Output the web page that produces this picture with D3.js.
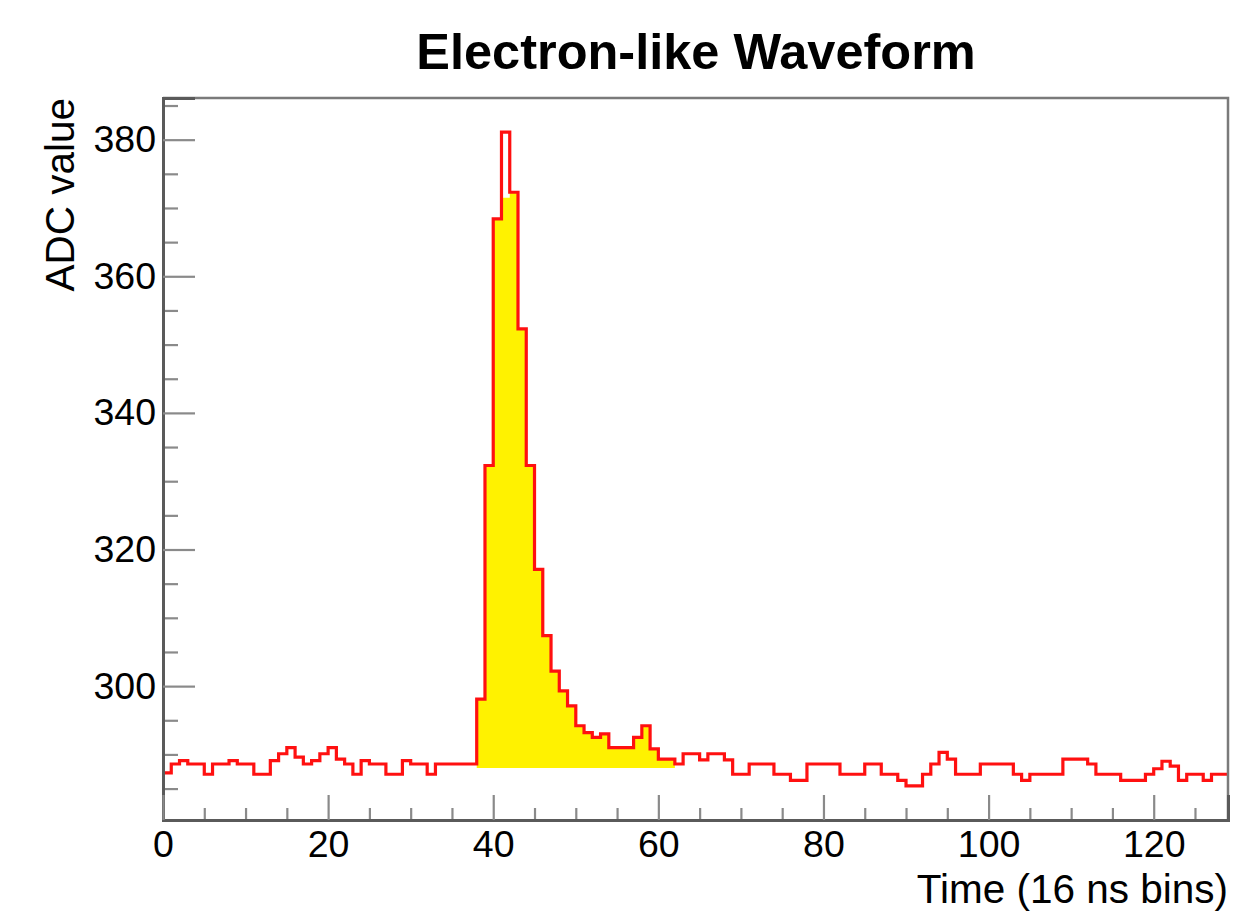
<!DOCTYPE html>
<html>
<head>
<meta charset="utf-8">
<script src="https://cdn.jsdelivr.net/npm/d3@7"></script>
<style>
  html, body { margin: 0; padding: 0; background: #fff; }
  svg { display: block; }
  text { font-family: "Liberation Sans", Arial, Helvetica, sans-serif; fill: #000; }
</style>
</head>
<body>
<svg id="chart" width="1234" height="921"></svg>
<script>
// ---------------- data ----------------
const chartTitle = "Electron-like Waveform";
const xTitle = "Time (16 ns bins)";
const yTitle = "ADC value";

// bin index (one 16 ns sample per bin)
const bins = d3.range(129);

// red waveform: ADC value per bin
const adc = [
  287.3, 288.6, 289.1, 288.6, 288.6, 287.1, 288.6, 288.6, 289.1, 288.6,
  288.6, 287.1, 287.1, 289.1, 290.1, 291.0, 289.6, 288.6, 289.1, 290.1,
  291.0, 289.3, 288.6, 287.1, 289.1, 288.6, 288.6, 287.1, 287.1, 289.1,
  288.6, 288.6, 287.1, 288.6, 288.6, 288.6, 288.6, 288.6, 298.1, 332.3,
  368.4, 381.1, 372.3, 352.3, 332.3, 317.1, 307.4, 302.2, 299.3, 297.1,
  294.2, 293.2, 292.5, 293.0, 291.0, 291.0, 291.0, 292.5, 294.2, 290.8,
  289.3, 289.3, 288.6, 290.1, 290.1, 289.2, 290.1, 290.1, 289.2, 287.1,
  287.1, 288.6, 288.6, 288.6, 287.1, 287.1, 286.2, 286.2, 288.6, 288.6,
  288.6, 288.6, 287.1, 287.1, 287.1, 288.6, 288.6, 287.1, 287.1, 286.2,
  285.4, 285.4, 287.1, 288.6, 290.3, 289.3, 287.1, 287.1, 287.1, 288.6,
  288.6, 288.6, 288.6, 287.1, 286.2, 287.1, 287.1, 287.1, 287.1, 289.3,
  289.3, 289.3, 288.6, 287.1, 287.1, 287.1, 286.2, 286.2, 286.2, 287.1,
  287.9, 289.0, 288.3, 286.2, 287.1, 287.1, 286.2, 287.1, 287.1
];

// yellow pulse window (integration region) values, bins 38..61
const pulseBins = d3.range(38, 62);
const pulseAdc = [
  298.1, 332.3, 368.4, 371.5, 372.3, 352.3, 332.3, 317.1, 307.4, 302.2,
  299.3, 297.1, 294.2, 293.2, 292.5, 293.0, 291.0, 291.0, 291.0, 292.5,
  294.2, 290.8, 289.3, 289.3
];
const pulseBaseline = 288.0;

// axes
const xDomain = [0, 129];
const yDomain = [280.4, 386.1];
const xMajorTicks = [0, 20, 40, 60, 80, 100, 120];
const xMinorTicks = d3.range(0, 129, 5).filter(v => v % 20 !== 0);
const yMajorTicks = [300, 320, 340, 360, 380];
const yMinorTicks = d3.range(285, 386, 5).filter(v => v % 20 !== 0);

// ---------------- layout ----------------
const M = { left: 163, right: 1228, top: 98, bottom: 820 };
const svg = d3.select("#chart");
svg.append("rect").attr("width", 1234).attr("height", 921).attr("fill", "#fff");

const x = d3.scaleLinear().domain(xDomain).range([M.left, M.right]);
const y = d3.scaleLinear().domain(yDomain).range([M.bottom, M.top]);

// yellow filled pulse
const pulsePts = pulseBins.map((b, i) => [b, pulseAdc[i]]);
pulsePts.push([pulseBins[pulseBins.length - 1] + 1, pulseAdc[pulseAdc.length - 1]]);
svg.append("path")
  .datum(pulsePts)
  .attr("fill", "#fff200")
  .attr("d", d3.area()
    .curve(d3.curveStepAfter)
    .x(d => x(d[0]))
    .y0(y(pulseBaseline))
    .y1(d => y(d[1])));

// red waveform histogram
const pts = bins.map((b, i) => [b, adc[i]]);
pts.push([bins[bins.length - 1] + 1, adc[adc.length - 1]]);
svg.append("path")
  .datum(pts)
  .attr("fill", "none")
  .attr("stroke", "#ff1010")
  .attr("stroke-width", 3.2)
  .attr("stroke-linejoin", "miter")
  .attr("d", d3.line()
    .curve(d3.curveStepAfter)
    .x(d => x(d[0]))
    .y(d => y(d[1])));

// frame top/right
svg.append("path")
  .attr("d", `M${M.left},${M.top}H${M.right}V${M.bottom}`)
  .attr("fill", "none").attr("stroke", "#7a7a7a").attr("stroke-width", 2.5);

// y axis
const yMinor = svg.append("g").attr("transform", `translate(${M.left},0)`)
  .call(d3.axisLeft(y).tickValues(yMinorTicks).tickSize(-15).tickFormat(""));
const yMajor = svg.append("g").attr("transform", `translate(${M.left},0)`)
  .call(d3.axisLeft(y).tickValues(yMajorTicks).tickSize(-32).tickPadding(7).tickFormat(d3.format("d")));

// x axis
const xMinor = svg.append("g").attr("transform", `translate(0,${M.bottom})`)
  .call(d3.axisBottom(x).tickValues(xMinorTicks).tickSize(-12).tickFormat(""));
const xMajor = svg.append("g").attr("transform", `translate(0,${M.bottom})`)
  .call(d3.axisBottom(x).tickValues(xMajorTicks).tickSize(-25).tickPadding(10).tickFormat(d3.format("d")));

[yMinor, yMajor, xMinor, xMajor].forEach(g => {
  g.select(".domain").attr("stroke", "#5a5a5a").attr("stroke-width", 3);
  g.selectAll(".tick line").attr("stroke", "#8a8a8a").attr("stroke-width", 2.2);
  g.selectAll(".tick text").attr("font-size", 37.5).attr("fill", "#111")
    .style("font-family", '"Liberation Sans", Arial, sans-serif');
});

// titles
svg.append("text")
  .attr("x", 696).attr("y", 69)
  .attr("text-anchor", "middle")
  .attr("font-size", 50.5).attr("font-weight", "bold")
  .text(chartTitle);

svg.append("text")
  .attr("x", M.right).attr("y", 903)
  .attr("text-anchor", "end")
  .attr("font-size", 40.5)
  .text(xTitle);

svg.append("text")
  .attr("transform", `translate(74,${M.top}) rotate(-90)`)
  .attr("text-anchor", "end")
  .attr("font-size", 40.5)
  .text(yTitle);
</script>
</body>
</html>
